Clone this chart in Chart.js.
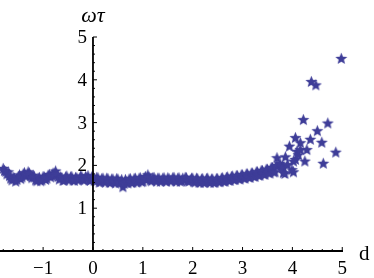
<!DOCTYPE html>
<html>
<head>
<meta charset="utf-8">
<script src="https://cdn.jsdelivr.net/npm/chart.js@4.4.1/dist/chart.umd.min.js"></script>
<style>
  html, body { margin: 0; padding: 0; background: #fff; }
  #wrap { width: 374px; height: 278px; }
</style>
</head>
<body>
<div id="wrap"><canvas id="plot"></canvas></div>
<script>
// band of points, d from -1.8 to 3.7
const bandD = [
  -1.80, -1.75, -1.70, -1.65, -1.60, -1.55, -1.50, -1.45, -1.40, -1.35,
  -1.30, -1.25, -1.20, -1.15, -1.10, -1.05, -1.00, -0.95, -0.90, -0.85,
  -0.80, -0.75, -0.70, -0.65, -0.60, -0.55, -0.50, -0.45, -0.40, -0.35,
  -0.30, -0.25, -0.20, -0.15, -0.10, -0.05, 0.00, 0.05, 0.10, 0.15,
  0.20, 0.25, 0.30, 0.35, 0.40, 0.45, 0.50, 0.55, 0.60, 0.65,
  0.70, 0.75, 0.80, 0.85, 0.90, 0.95, 1.00, 1.05, 1.10, 1.15,
  1.20, 1.25, 1.30, 1.35, 1.40, 1.45, 1.50, 1.55, 1.60, 1.65,
  1.70, 1.75, 1.80, 1.85, 1.90, 1.95, 2.00, 2.05, 2.10, 2.15,
  2.20, 2.25, 2.30, 2.35, 2.40, 2.45, 2.50, 2.55, 2.60, 2.65,
  2.70, 2.75, 2.80, 2.85, 2.90, 2.95, 3.00, 3.05, 3.10, 3.15,
  3.20, 3.25, 3.30, 3.35, 3.40, 3.45, 3.50, 3.55, 3.60, 3.65, 3.70
];
const bandOmegaTau = [
  1.93, 1.86, 1.85, 1.70, 1.72, 1.63, 1.74, 1.69, 1.80, 1.75,
  1.85, 1.76, 1.77, 1.66, 1.70, 1.64, 1.74, 1.67, 1.77, 1.73,
  1.82, 1.87, 1.74, 1.73, 1.65, 1.73, 1.68, 1.73, 1.66, 1.72,
  1.66, 1.75, 1.67, 1.74, 1.76, 1.65, 1.74, 1.63, 1.71, 1.62,
  1.70, 1.61, 1.69, 1.60, 1.68, 1.59, 1.68, 1.61, 1.50, 1.67,
  1.59, 1.69, 1.61, 1.70, 1.62, 1.71, 1.63, 1.74, 1.78, 1.66,
  1.71, 1.66, 1.70, 1.63, 1.70, 1.64, 1.71, 1.65, 1.71, 1.64,
  1.70, 1.63, 1.70, 1.72, 1.64, 1.66, 1.70, 1.61, 1.69, 1.60,
  1.69, 1.61, 1.70, 1.60, 1.68, 1.61, 1.69, 1.62, 1.71, 1.63,
  1.73, 1.65, 1.75, 1.67, 1.76, 1.68, 1.78, 1.70, 1.80, 1.72,
  1.82, 1.74, 1.85, 1.77, 1.88, 1.79, 1.91, 1.82, 1.95, 1.85, 1.98
];
// second run of the band, half a step further along d
const band2D = [
  -1.775, -1.725, -1.675, -1.625, -1.575, -1.525, -1.475, -1.425, -1.375, -1.325,
  -1.275, -1.225, -1.175, -1.125, -1.075, -1.025, -0.975, -0.925, -0.875, -0.825,
  -0.775, -0.725, -0.675, -0.625, -0.575, -0.525, -0.475, -0.425, -0.375, -0.325,
  -0.275, -0.225, -0.175, -0.125, -0.075, -0.025, 0.025, 0.075, 0.125, 0.175,
  0.225, 0.275, 0.325, 0.375, 0.425, 0.475, 0.525, 0.575, 0.625, 0.675,
  0.725, 0.775, 0.825, 0.875, 0.925, 0.975, 1.025, 1.075, 1.125, 1.175,
  1.225, 1.275, 1.325, 1.375, 1.425, 1.475, 1.525, 1.575, 1.625, 1.675,
  1.725, 1.775, 1.825, 1.875, 1.925, 1.975, 2.025, 2.075, 2.125, 2.175,
  2.225, 2.275, 2.325, 2.375, 2.425, 2.475, 2.525, 2.575, 2.625, 2.675,
  2.725, 2.775, 2.825, 2.875, 2.925, 2.975, 3.025, 3.075, 3.125, 3.175,
  3.225, 3.275, 3.325, 3.375, 3.425, 3.475, 3.525, 3.575, 3.625, 3.675
];
const band2OmegaTau = [
  1.88, 1.80, 1.76, 1.66, 1.70, 1.67, 1.78, 1.73, 1.83, 1.78,
  1.82, 1.71, 1.73, 1.64, 1.72, 1.66, 1.73, 1.70, 1.79, 1.76,
  1.80, 1.79, 1.68, 1.71, 1.66, 1.75, 1.66, 1.74, 1.65, 1.71,
  1.68, 1.74, 1.66, 1.71, 1.66, 1.73, 1.65, 1.72, 1.61, 1.69,
  1.63, 1.70, 1.61, 1.68, 1.62, 1.69, 1.60, 1.67, 1.58, 1.61,
  1.68, 1.60, 1.69, 1.61, 1.70, 1.62, 1.70, 1.67, 1.72, 1.64,
  1.72, 1.63, 1.70, 1.64, 1.71, 1.63, 1.69, 1.64, 1.72, 1.63,
  1.71, 1.64, 1.66, 1.71, 1.63, 1.70, 1.62, 1.70, 1.61, 1.68,
  1.60, 1.69, 1.62, 1.68, 1.60, 1.69, 1.62, 1.70, 1.63, 1.72,
  1.65, 1.74, 1.67, 1.76, 1.69, 1.78, 1.71, 1.80, 1.73, 1.82,
  1.75, 1.85, 1.77, 1.88, 1.80, 1.91, 1.83, 1.95, 1.85, 2.00
];
// scattered points at large d
const tailD = [
  3.69, 3.75, 3.80, 3.82, 3.82, 3.85, 3.86, 3.90, 3.94, 3.99,
  4.02, 4.02, 4.06, 4.06, 4.09, 4.12, 4.16, 4.16, 4.22, 4.25,
  4.29, 4.36, 4.38, 4.47, 4.50, 4.59, 4.62, 4.71, 4.87, 4.98
];
const tailOmegaTau = [
  2.18, 2.05, 1.98, 1.83, 1.95, 1.81, 2.20, 2.02, 2.45, 1.90,
  2.10, 1.85, 2.65, 2.14, 2.33, 2.25, 2.53, 2.37, 3.07, 2.10,
  2.37, 2.61, 3.96, 3.88, 2.81, 2.54, 2.05, 2.99, 2.31, 4.50
];
const xTicks = [-1, 0, 1, 2, 3, 4, 5];
const yTicks = [1, 2, 3, 4, 5];
const xLabel = 'd';
const yLabel = 'ωτ';

const starColor = 'rgb(62, 61, 152)';
const tickFont = "19px 'Liberation Serif'";

// filled five-pointed star used as point style
function makeStar(size, color) {
    const c = document.createElement('canvas');
    c.width = size;
    c.height = size;
    const g = c.getContext('2d');
    const cx = size / 2, cy = size / 2 + 0.5;
    const ro = size / 2 - 0.2, ri = ro * 0.44;
    g.beginPath();
    for (let i = 0; i < 10; i++) {
        const r = i % 2 === 0 ? ro : ri;
        const a = -Math.PI / 2 + i * Math.PI / 5;
        const px = cx + r * Math.cos(a), py = cy + r * Math.sin(a);
        if (i === 0) g.moveTo(px, py); else g.lineTo(px, py);
    }
    g.closePath();
    g.fillStyle = color;
    g.fill();
    return c;
}
const star = makeStar(13, starColor);

const toPoints = (xs, ys) => xs.map((d, i) => ({ x: d, y: ys[i] }));
const points = toPoints(bandD, bandOmegaTau)
    .concat(toPoints(band2D, band2OmegaTau))
    .concat(toPoints(tailD, tailOmegaTau));

function fmt(v) {
    return v < 0 ? '\u2212' + Math.abs(v) : String(v);
}

// Mathematica style axes crossing at the origin
const axesPlugin = {
    id: 'mmaAxes',
    afterDatasetsDraw(chart) {
        const ctx = chart.ctx;
        const xs = chart.scales.x, ys = chart.scales.y;
        const area = chart.chartArea;
        const x0 = xs.getPixelForValue(0);
        const y0 = ys.getPixelForValue(0);
        ctx.save();
        ctx.strokeStyle = '#000';
        ctx.fillStyle = '#000';

        ctx.lineWidth = 1.8;
        ctx.beginPath();
        ctx.moveTo(area.left, y0);
        ctx.lineTo(area.right, y0);
        ctx.moveTo(x0, y0);
        ctx.lineTo(x0, ys.getPixelForValue(5));
        ctx.stroke();

        // minor + major ticks on x axis
        ctx.lineWidth = 1;
        for (let k = -9; k <= 25; k++) {
            const v = k / 5;
            if (v < xs.min || v > xs.max) continue;
            const px = xs.getPixelForValue(v);
            const len = k % 5 === 0 ? 4 : 2;
            ctx.beginPath();
            ctx.moveTo(px, y0);
            ctx.lineTo(px, y0 - len);
            ctx.stroke();
        }
        // minor + major ticks on y axis
        for (let k = 1; k <= 25; k++) {
            const py = ys.getPixelForValue(k / 5);
            const len = k % 5 === 0 ? 4 : 2;
            ctx.beginPath();
            ctx.moveTo(x0, py);
            ctx.lineTo(x0 + len, py);
            ctx.stroke();
        }

        ctx.font = tickFont;
        ctx.textAlign = 'center';
        ctx.textBaseline = 'alphabetic';
        xTicks.forEach(v => {
            ctx.fillText(fmt(v), xs.getPixelForValue(v), y0 + 23);
        });
        ctx.textAlign = 'right';
        ctx.textBaseline = 'middle';
        yTicks.forEach(v => {
            ctx.fillText(fmt(v), x0 - 6, ys.getPixelForValue(v) + 1);
        });

        ctx.textAlign = 'left';
        ctx.textBaseline = 'alphabetic';
        ctx.font = "21px 'Liberation Serif'";
        ctx.fillText(xLabel, area.right + 16, y0 + 9);
        ctx.textAlign = 'center';
        ctx.font = "italic 22px 'Liberation Serif'";
        ctx.fillText(yLabel, x0, 22);
        ctx.restore();
    }
};

document.addEventListener('DOMContentLoaded', function () {
    const ctx = document.getElementById('plot').getContext('2d');
    new Chart(ctx, {
        type: 'scatter',
        data: {
            datasets: [{
                data: points,
                pointStyle: star,
                pointRadius: 6,
                pointHoverRadius: 6,
                clip: false
            }]
        },
        options: {
            responsive: true,
            maintainAspectRatio: false,
            animation: false,
            events: [],
            layout: {
                autoPadding: false,
                padding: { left: 0, right: 31, top: 37, bottom: 27 }
            },
            scales: {
                x: { type: 'linear', min: -1.865, max: 5.015, display: false },
                y: { type: 'linear', min: 0, max: 5, display: false }
            },
            plugins: {
                legend: { display: false },
                tooltip: { enabled: false }
            }
        },
        plugins: [axesPlugin]
    });
});
</script>
</body>
</html>
